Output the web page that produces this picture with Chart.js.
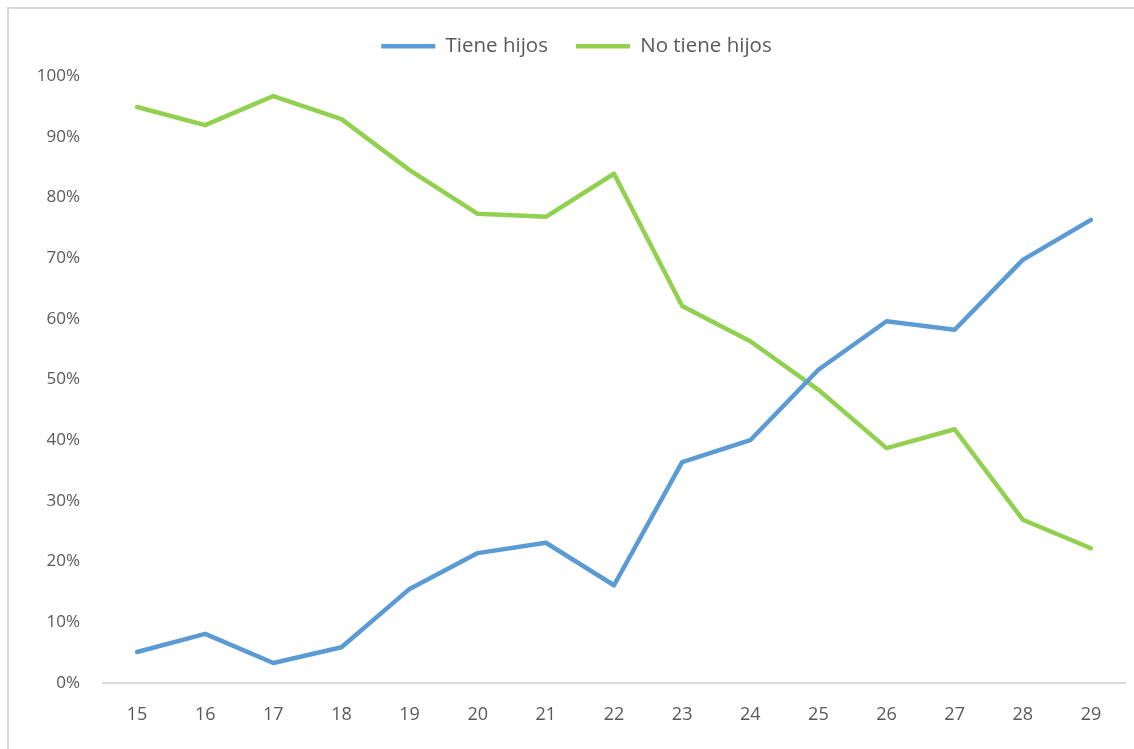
<!DOCTYPE html>
<html>
<head>
<meta charset="utf-8">
<script src="https://cdn.jsdelivr.net/npm/chart.js@4"></script>
<style>
  html, body { margin: 0; padding: 0; background: #fff; overflow: hidden; }
  #frame { position: absolute; left: 7px; top: 7px; width: 1132px; height: 760px;
           border: 2px solid #d9d9d9; box-sizing: border-box; }
  #wrap { position: absolute; left: 0; top: 0; width: 1134px; height: 749px; }
</style>
</head>
<body>
<div id="frame"></div>
<div id="wrap"><canvas id="chart"></canvas></div>
<script>
  // ages on the x axis
  const ages = ["15","16","17","18","19","20","21","22","23","24","25","26","27","28","29"];
  // share of people with children (%)
  const tieneHijos = [5.1, 8.1, 3.3, 5.9, 15.5, 21.4, 23.1, 16.1, 36.4, 40.0, 51.6, 59.6, 58.2, 69.7, 76.3];
  // share of people without children (%)
  const noTieneHijos = [94.9, 91.9, 96.7, 92.9, 84.5, 77.3, 76.8, 83.9, 62.1, 56.3, 48.3, 38.7, 41.8, 26.9, 22.2];
  const yTicks = [0, 10, 20, 30, 40, 50, 60, 70, 80, 90, 100];

  const txt = "#595959";
  Chart.defaults.font.family = "'Open Sans', 'Liberation Sans', sans-serif";
  Chart.defaults.font.size = 17;
  Chart.defaults.color = txt;

  // legend box: fixed height, nudged right so it sits where the original is
  const legendBox = {
    id: "legendBox",
    beforeInit(chart) {
      const fit = chart.legend.fit;
      chart.legend.fit = function () {
        fit.bind(chart.legend)();
        this.height = 68;
      };
    },
    afterLayout(chart) {
      chart.legend.left += 28;
    }
  };

  new Chart(document.getElementById("chart"), {
    type: "line",
    data: {
      labels: ages,
      datasets: [
        { label: "Tiene hijos", data: tieneHijos, borderColor: "#5B9BD5", backgroundColor: "#5B9BD5",
          borderWidth: 4.5, pointRadius: 0, borderCapStyle: "round", borderJoinStyle: "round", tension: 0 },
        { label: "No tiene hijos", data: noTieneHijos, borderColor: "#92D050", backgroundColor: "#92D050",
          borderWidth: 4.5, pointRadius: 0, borderCapStyle: "round", borderJoinStyle: "round", tension: 0 }
      ]
    },
    options: {
      responsive: true,
      maintainAspectRatio: false,
      animation: false,
      layout: { padding: { top: 8, right: 9, bottom: 0, left: 0 } },
      plugins: {
        legend: {
          position: "top",
          labels: { usePointStyle: true, pointStyle: "line", pointStyleWidth: 54, boxHeight: 4,
                    padding: 28, color: txt, font: { size: 20.5 } }
        },
        tooltip: { enabled: false }
      },
      scales: {
        x: {
          offset: true,
          grid: { display: false, drawTicks: false },
          border: { display: true, color: "#d9d9d9", width: 2 },
          ticks: { padding: 21, color: txt, font: { size: 18 } },
          afterFit(s) { s.height = 66; }
        },
        y: {
          min: 0, max: 100,
          grid: { display: false, drawTicks: false },
          border: { display: false },
          afterBuildTicks(s) { s.ticks = yTicks.map(v => ({ value: v })); },
          ticks: { padding: 23, color: txt, callback: v => v + "%" },
          afterFit(s) { s.width = 103; }
        }
      }
    },
    plugins: [legendBox]
  });
</script>
</body>
</html>
